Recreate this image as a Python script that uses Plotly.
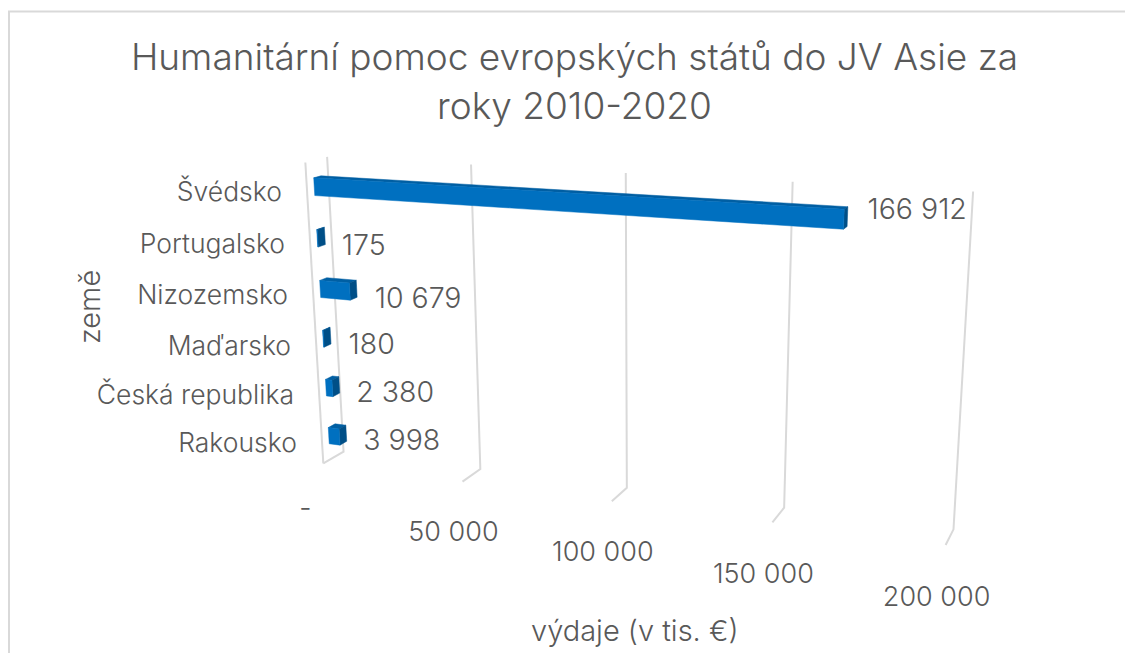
import numpy as np
import plotly.graph_objects as go

countries = ["Rakousko", "Česká republika", "Maďarsko", "Nizozemsko", "Portugalsko", "Švédsko"]
values = [3998, 2380, 180, 10679, 175, 166912]
value_labels = ["3 998", "2 380", "180", "10 679", "175", "166 912"]
x_ticks = [0, 50000, 100000, 150000, 200000]
x_tick_labels = ["-", "50 000", "100 000", "150 000", "200 000"]
X_MAX = 200000

# Camera calibration: (value, category position, depth) -> page pixel
calib_world = [
    (0, 0, 1), (50000, 0, 1), (100000, 0, 1), (150000, 0, 1), (200000, 0, 1),
    (0, 6, 1), (50000, 6, 1), (100000, 6, 1), (150000, 6, 1), (200000, 6, 1),
    (0, 0, 0), (50000, 0, 0), (100000, 0, 0), (150000, 0, 0), (200000, 0, 0),
    (0, 6, 0),
]
calib_page = [
    (343, 452), (481, 468), (627, 488), (784, 508), (953, 530),
    (327, 157), (471, 165), (627, 172), (792, 182), (973, 191),
    (323, 463), (463, 482), (612, 501), (772, 521), (946, 546),
    (305, 163),
]


def solve_camera():
    rows = []
    for (u, v, w), (px, py) in zip(calib_world, calib_page):
        p = [u / X_MAX, v / 6, w, 1]
        rows.append(p + [0, 0, 0, 0] + [-px * c for c in p])
        rows.append([0, 0, 0, 0] + p + [-py * c for c in p])
    return np.linalg.svd(np.array(rows, dtype=float))[2][-1].reshape(3, 4)


CAM = solve_camera()


def proj(u, v, w):
    a = CAM @ np.array([u / X_MAX, v / 6, w, 1.0])
    return a[0] / a[2], a[1] / a[2]


def poly(points, color):
    pts = [proj(*p) for p in points]
    pts.append(pts[0])
    return go.Scatter(x=[p[0] for p in pts], y=[p[1] for p in pts], mode="lines",
                      fill="toself", fillcolor=color, line=dict(color=color, width=0.5),
                      hoverinfo="skip")


def line(points, color="#D9D9D9", width=2):
    pts = [proj(*p) for p in points]
    return go.Scatter(x=[p[0] for p in pts], y=[p[1] for p in pts], mode="lines",
                      line=dict(color=color, width=width), hoverinfo="skip")


FONT = "Inter, Open Sans, sans-serif"
TEXT = "#595959"
FRONT, TOP, SIDE = "#0070C0", "#005FA3", "#004F87"
HALF_BAR = 0.17
W0, W1 = 1 / 3, 2 / 3
PAGE_MARGIN = 8  # the browser page insets the figure by this many pixels

fig = go.Figure()

# grid: wall lines and floor feet
for t in x_ticks:
    fig.add_trace(line([(t, 6, 1), (t, 0, 1), (t, 0, 0)]))
fig.add_trace(line([(0, 6, 0), (0, 0, 0)]))

# bars
for i, val in enumerate(values):
    lo, hi = i + 0.5 - HALF_BAR, i + 0.5 + HALF_BAR
    fig.add_trace(poly([(0, hi, W0), (val, hi, W0), (val, hi, W1), (0, hi, W1)], TOP))
    fig.add_trace(poly([(val, lo, W0), (val, hi, W0), (val, hi, W1), (val, lo, W1)], SIDE))
    fig.add_trace(poly([(0, lo, W0), (val, lo, W0), (val, hi, W0), (0, hi, W0)], FRONT))


def text_trace(xs, ys, labels, size, position):
    return go.Scatter(x=xs, y=ys, mode="text", text=labels, textposition=position,
                      textfont=dict(family=FONT, size=size, color=TEXT, weight=300),
                      hoverinfo="skip", cliponaxis=False)


# value labels
label_dy = [10, 10, 11, 12, 12, -5]
label_dx = [17, 17, 18, 18, 17, 20]
ends = [proj(v, i + 0.5, W1) for i, v in enumerate(values)]
fig.add_trace(text_trace([e[0] + d for e, d in zip(ends, label_dx)],
                         [e[1] + d for e, d in zip(ends, label_dy)],
                         value_labels, 28.5, "middle right"))

# category labels
cats = [proj(0, i + 0.5, 0) for i in range(6)]
fig.add_trace(text_trace([c[0] - 25 for c in cats], [c[1] + 6 for c in cats],
                         countries, 26.5, "middle left"))

# value-axis tick labels
tick_dx = [-18, -9, -9, -9, -9]
tick_dy = [47, 53, 53, 54, 54]
feet = [proj(t, 0, 0) for t in x_ticks]
fig.add_trace(text_trace([f[0] + d for f, d in zip(feet, tick_dx)],
                         [f[1] + d for f, d in zip(feet, tick_dy)],
                         x_tick_labels, 27, "middle center"))

fig.update_layout(
    width=1133 - PAGE_MARGIN, height=653 - PAGE_MARGIN,
    margin=dict(l=0, r=0, t=0, b=0), autosize=False,
    paper_bgcolor="white", plot_bgcolor="white", showlegend=False,
    title=dict(text="Humanitární pomoc evropských států do JV Asie za<br>roky 2010-2020",
               x=(574.5 - PAGE_MARGIN) / (1133 - PAGE_MARGIN), xanchor="center",
               y=0.945 - 27 / 645, yanchor="top",
               font=dict(size=37, color=TEXT, family=FONT, weight=300)),
    xaxis=dict(visible=False, range=[PAGE_MARGIN, 1133], fixedrange=True),
    yaxis=dict(visible=False, range=[653, PAGE_MARGIN], fixedrange=True),
    shapes=[dict(type="path", xref="x", yref="y", path="M 9 653 L 9 11.5 L 1133 11.5",
                 line=dict(color="#D9D9D9", width=2))],
    annotations=[
        dict(text="výdaje (v tis. €)", x=635, y=630, xref="x", yref="y", showarrow=False,
             font=dict(family=FONT, size=29, color=TEXT, weight=300)),
        dict(text="země", x=89, y=307, xref="x", yref="y", showarrow=False, textangle=-90,
             font=dict(family=FONT, size=29, color=TEXT, weight=300)),
    ],
)
fig.write_html("out.html")
